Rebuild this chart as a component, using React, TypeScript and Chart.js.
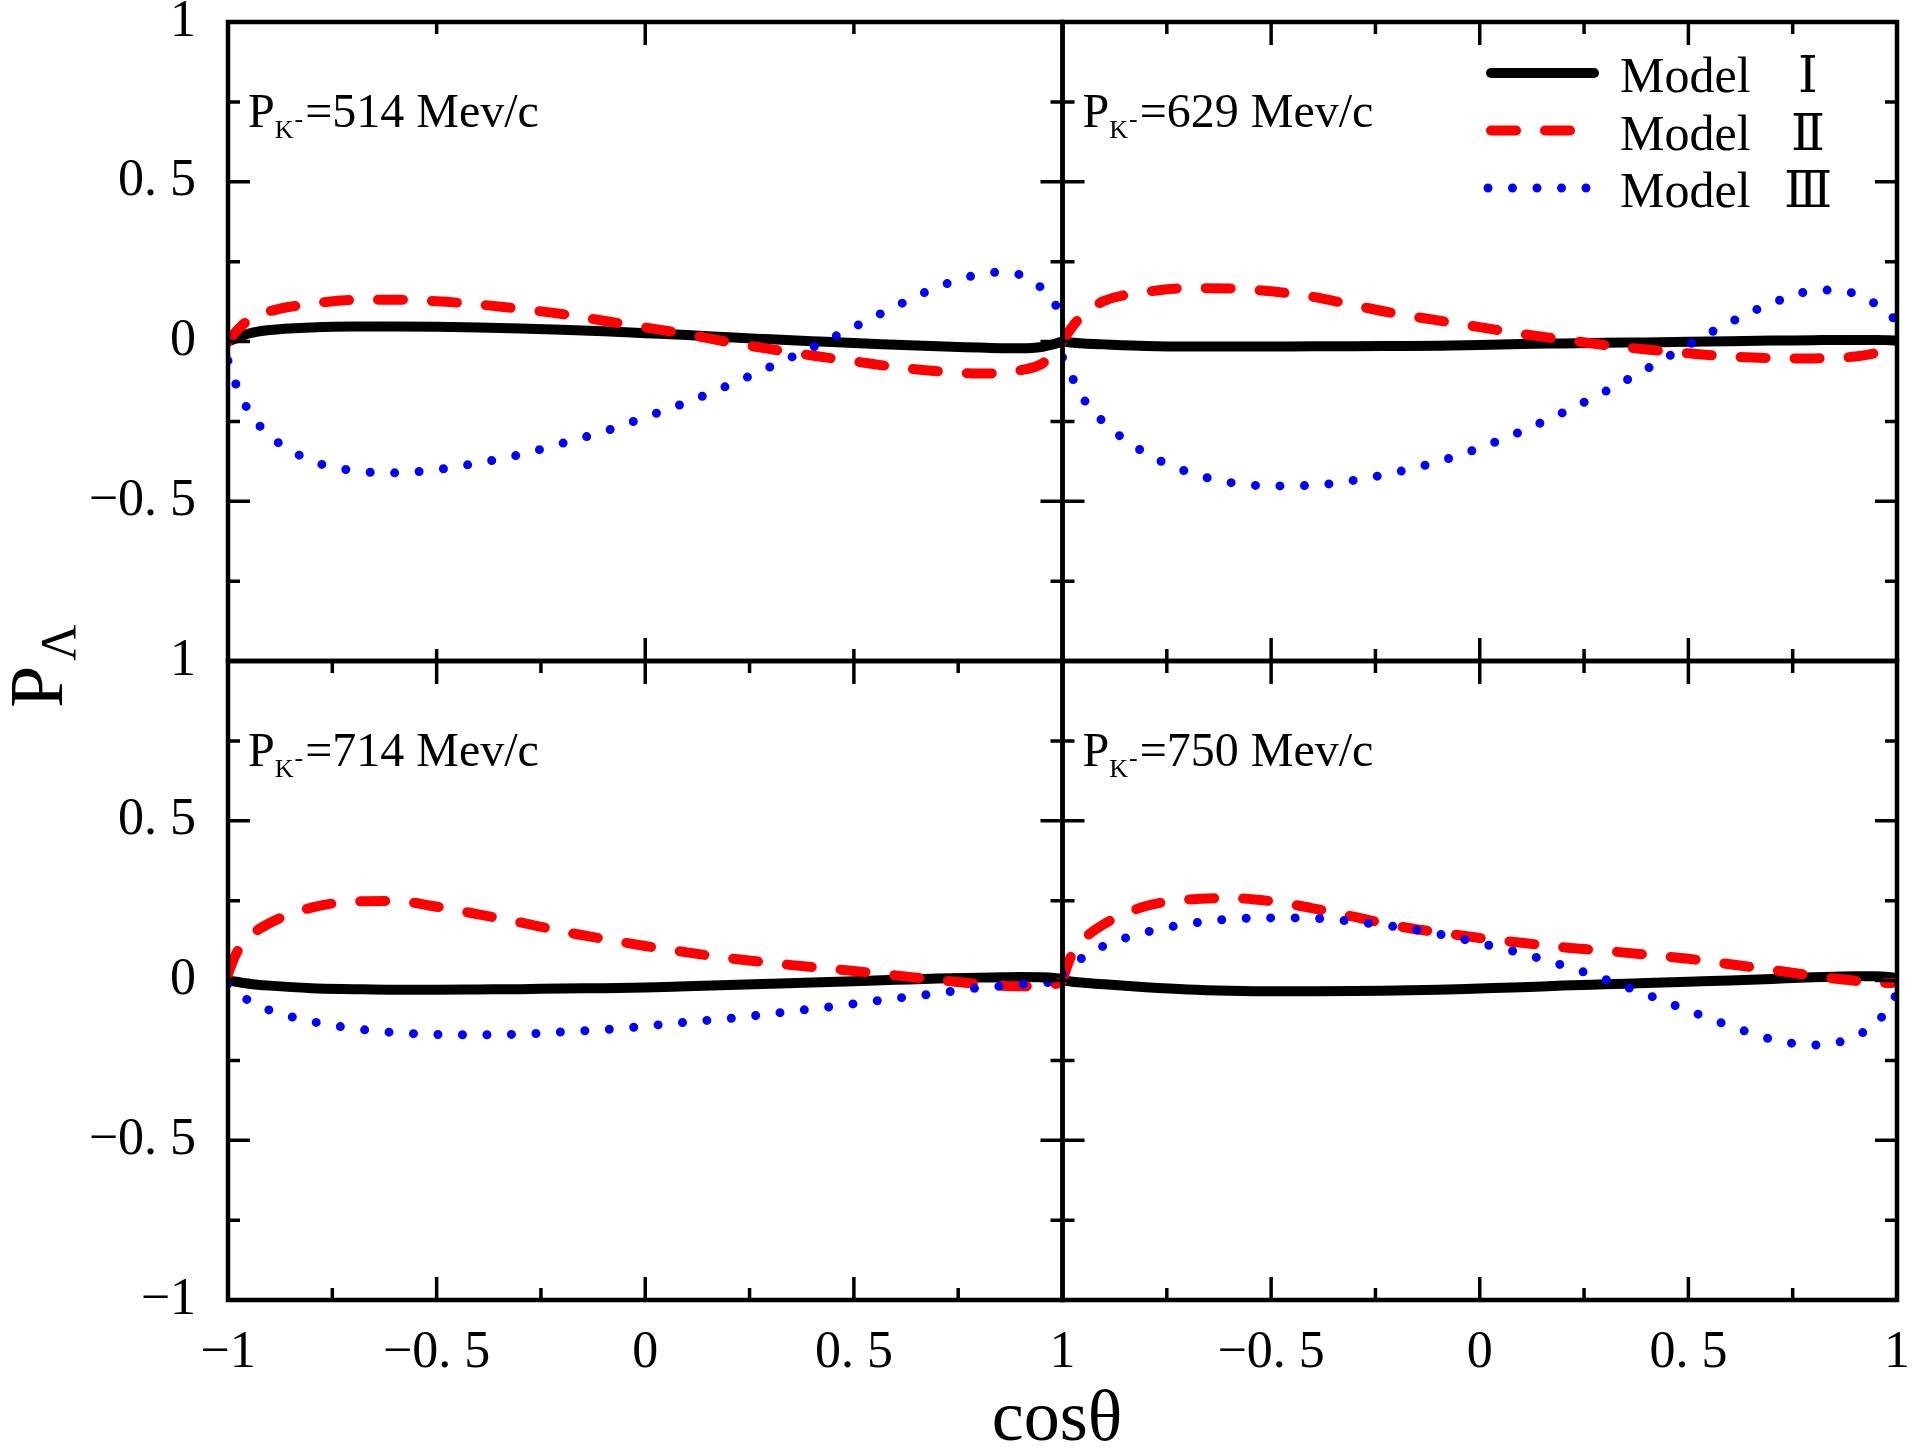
import React, { useEffect, useRef } from 'react';
import { Chart, registerables } from 'chart.js';

Chart.register(...registerables);

// ---------- data ----------
const COS_THETA = [-1, -0.98, -0.95, -0.9, -0.8, -0.7, -0.6, -0.5, -0.4, -0.3, -0.2, -0.1, 0, 0.1, 0.2, 0.3, 0.4, 0.5, 0.6, 0.7, 0.8, 0.85, 0.9, 0.95, 0.98, 1];

const P514_MODEL1 = [0, 0.01, 0.025, 0.036, 0.044, 0.047, 0.047, 0.046, 0.044, 0.041, 0.037, 0.032, 0.026, 0.02, 0.013, 0.007, 0.001, -0.005, -0.01, -0.015, -0.019, -0.021, -0.021, -0.017, -0.008, 0];
const P514_MODEL2 = [0, 0.032, 0.068, 0.095, 0.118, 0.13, 0.131, 0.126, 0.116, 0.102, 0.086, 0.065, 0.044, 0.023, -0.002, -0.024, -0.044, -0.062, -0.08, -0.093, -0.1, -0.099, -0.09, -0.07, -0.035, 0];
const P514_MODEL3 = [-0.06, -0.137, -0.218, -0.295, -0.373, -0.404, -0.411, -0.401, -0.38, -0.354, -0.319, -0.282, -0.237, -0.19, -0.137, -0.079, -0.019, 0.045, 0.11, 0.17, 0.21, 0.217, 0.208, 0.167, 0.12, 0.085];

const P629_MODEL1 = [0, -0.003, -0.006, -0.009, -0.014, -0.016, -0.016, -0.016, -0.015, -0.015, -0.014, -0.013, -0.011, -0.008, -0.006, -0.004, -0.003, -0.001, 0.001, 0.003, 0.004, 0.005, 0.005, 0.005, 0.004, 0.003];
const P629_MODEL2 = [0, 0.04, 0.085, 0.127, 0.155, 0.167, 0.166, 0.157, 0.14, 0.113, 0.087, 0.066, 0.045, 0.024, 0.006, -0.011, -0.025, -0.037, -0.047, -0.052, -0.053, -0.051, -0.047, -0.036, -0.026, -0.018];
const P629_MODEL3 = [-0.05, -0.104, -0.179, -0.254, -0.35, -0.408, -0.441, -0.452, -0.45, -0.434, -0.409, -0.376, -0.333, -0.281, -0.222, -0.157, -0.086, -0.011, 0.06, 0.12, 0.159, 0.161, 0.149, 0.116, 0.085, 0.065];

const P714_MODEL1 = [0, -0.004, -0.01, -0.016, -0.024, -0.027, -0.029, -0.029, -0.028, -0.027, -0.025, -0.024, -0.022, -0.018, -0.014, -0.01, -0.006, -0.002, 0.002, 0.006, 0.009, 0.01, 0.011, 0.01, 0.008, 0.005];
const P714_MODEL2 = [0.02, 0.085, 0.135, 0.18, 0.228, 0.247, 0.249, 0.231, 0.207, 0.182, 0.154, 0.13, 0.108, 0.088, 0.07, 0.055, 0.042, 0.03, 0.016, 0.002, -0.011, -0.016, -0.018, -0.018, -0.012, -0.005];
const P714_MODEL3 = [-0.01, -0.035, -0.063, -0.093, -0.128, -0.15, -0.163, -0.169, -0.17, -0.168, -0.161, -0.154, -0.143, -0.13, -0.119, -0.104, -0.089, -0.073, -0.056, -0.04, -0.023, -0.018, -0.012, -0.008, -0.004, 0];

const P750_MODEL1 = [0, -0.003, -0.007, -0.012, -0.021, -0.028, -0.032, -0.034, -0.034, -0.033, -0.031, -0.029, -0.025, -0.021, -0.016, -0.012, -0.008, -0.004, 0, 0.005, 0.01, 0.012, 0.013, 0.013, 0.011, 0.008];
const P750_MODEL2 = [0, 0.075, 0.128, 0.177, 0.233, 0.253, 0.258, 0.248, 0.226, 0.199, 0.171, 0.151, 0.133, 0.118, 0.104, 0.093, 0.081, 0.068, 0.051, 0.033, 0.015, 0.006, -0.001, -0.007, -0.008, -0.005];
const P750_MODEL3 = [0.02, 0.045, 0.073, 0.109, 0.151, 0.177, 0.192, 0.196, 0.195, 0.184, 0.168, 0.146, 0.117, 0.085, 0.047, 0.004, -0.044, -0.094, -0.142, -0.184, -0.202, -0.196, -0.175, -0.133, -0.085, -0.04];

const MOMENTA = ['514', '629', '714', '750'];
const LEGEND_LABELS = ['Model Ⅰ', 'Model Ⅱ', 'Model Ⅲ'];
const TICK_VALUES = [-1, -0.5, 0, 0.5, 1];
const TICK_TEXTS = ['−1', '−0. 5', '0', '0. 5', '1'];
const X_TITLE = 'cosθ';
const Y_TITLE_MAIN = 'P';
const Y_TITLE_SUB = 'Λ';

// ---------- styling ----------
const FONT = '"Liberation Serif", "DejaVu Serif", serif';
const SERIES_STYLE = [
  { color: '#0000ff', width: 9, dash: [0, 24.5], cap: 'round' },
  { color: '#ff0000', width: 10, dash: [25, 29], cap: 'round' },
  { color: '#000000', width: 10, dash: [], cap: 'round' },
];

const PANELS = [
  { x: 'xL', y: 'yT', momentum: MOMENTA[0], series: [P514_MODEL3, P514_MODEL2, P514_MODEL1], coarse: true },
  { x: 'xR', y: 'yT', momentum: MOMENTA[1], series: [P629_MODEL3, P629_MODEL2, P629_MODEL1], coarse: false },
  { x: 'xL', y: 'yB', momentum: MOMENTA[2], series: [P714_MODEL3, P714_MODEL2, P714_MODEL1], coarse: false },
  { x: 'xR', y: 'yB', momentum: MOMENTA[3], series: [P750_MODEL3, P750_MODEL2, P750_MODEL1], coarse: false },
];

function tickText(v: number, hideMinusOne: boolean) {
  if (hideMinusOne && Math.abs(v + 1) < 1e-9) return '';
  const i = TICK_VALUES.findIndex((t) => Math.abs(t - v) < 1e-9);
  return i >= 0 ? TICK_TEXTS[i] : '';
}

function axisBase(position: string, hide: boolean, weight: number) {
  const horizontal = position === 'bottom';
  return {
    type: 'linear',
    position,
    stack: horizontal ? 'xs' : 'ys',
    stackWeight: 1,
    weight,
    min: -1,
    max: 1,
    grid: { display: false, drawTicks: false },
    border: { display: false },
    ticks: {
      stepSize: 0.5,
      autoSkip: false,
      maxRotation: 0,
      minRotation: 0,
      color: '#000',
      padding: horizontal ? 22 : 32,
      font: { family: FONT, size: 52 },
      callback: (v: any) => tickText(Number(v), hide),
    },
    afterFit: (s: any) => {
      if (horizontal) s.height = 149;
      else s.width = 228;
      s.paddingLeft = 0;
      s.paddingRight = 0;
      s.paddingTop = 0;
      s.paddingBottom = 0;
    },
  };
}

const decorPlugin = {
  id: 'decor',
  beforeDatasetDraw(chart: any, args: any) {
    const xs = args.meta.xScale;
    const ys = args.meta.yScale;
    const ctx = chart.ctx;
    ctx.save();
    ctx.beginPath();
    ctx.rect(xs.left, ys.top, xs.right - xs.left, ys.bottom - ys.top);
    ctx.clip();
  },
  afterDatasetDraw(chart: any) {
    chart.ctx.restore();
  },
  afterDraw(chart: any) {
    const ctx = chart.ctx as CanvasRenderingContext2D;
    const sc = chart.scales;
    ctx.save();
    ctx.strokeStyle = '#000';
    ctx.fillStyle = '#000';

    PANELS.forEach((p) => {
      const xs = sc[p.x];
      const ys = sc[p.y];
      const L = xs.left, R = xs.right, T = ys.top, B = ys.bottom;
      // ticks
      ctx.lineWidth = 3.5;
      ctx.lineCap = 'butt';
      const xMajor = p.coarse ? [0] : [-0.5, 0, 0.5];
      const xMinor = p.coarse ? [-0.5, 0.5] : [-0.75, -0.25, 0.25, 0.75];
      const yMajor = [-0.5, 0, 0.5];
      const yMinor = [-0.75, -0.25, 0.25, 0.75];
      const drawX = (vals: number[], len: number) => {
        vals.forEach((v) => {
          const px = xs.getPixelForValue(v);
          ctx.beginPath();
          ctx.moveTo(px, T); ctx.lineTo(px, T + len);
          ctx.moveTo(px, B); ctx.lineTo(px, B - len);
          ctx.stroke();
        });
      };
      const drawY = (vals: number[], len: number) => {
        vals.forEach((v) => {
          const py = ys.getPixelForValue(v);
          ctx.beginPath();
          ctx.moveTo(L, py); ctx.lineTo(L + len, py);
          ctx.moveTo(R, py); ctx.lineTo(R - len, py);
          ctx.stroke();
        });
      };
      drawX(xMajor, 23); drawX(xMinor, 12);
      drawY(yMajor, 22); drawY(yMinor, 12);
      // frame
      ctx.lineWidth = 4.5;
      ctx.strokeRect(L, T, R - L, B - T);

      // panel label  P_{K^-}=... Mev/c
      const lx = L + 20;
      const ly = T + 105;
      ctx.textAlign = 'left';
      ctx.textBaseline = 'alphabetic';
      ctx.font = `48px ${FONT}`;
      ctx.fillText('P', lx, ly);
      let cx = lx + ctx.measureText('P').width;
      ctx.font = `26px ${FONT}`;
      ctx.fillText('K', cx, ly + 11);
      cx += ctx.measureText('K').width;
      ctx.fillText('-', cx + 1, ly);
      cx += ctx.measureText('-').width + 3;
      ctx.font = `48px ${FONT}`;
      ctx.fillText('=' + p.momentum + ' Mev/c', cx, ly);
    });

    // legend (inside upper-right panel)
    const ds = chart.data.datasets;
    const legendStyles = [ds[2], ds[1], ds[0]];
    LEGEND_LABELS.forEach((label, i) => {
      const y = 73 + i * 57.5;
      const st = legendStyles[i];
      ctx.save();
      ctx.strokeStyle = st.borderColor;
      ctx.lineWidth = st.borderWidth;
      ctx.lineCap = 'round';
      ctx.setLineDash(st.borderDash || []);
      ctx.beginPath();
      if (i === 0) { ctx.moveTo(1491, y); ctx.lineTo(1594, y); }
      else if (i === 1) { ctx.moveTo(1491, y); ctx.lineTo(1592, y); }
      else { ctx.moveTo(1488, y); ctx.lineTo(1588, y); }
      ctx.stroke();
      ctx.restore();
      const [word, num] = label.split(' ');
      ctx.font = `50px ${FONT}`;
      ctx.textAlign = 'left';
      ctx.textBaseline = 'alphabetic';
      ctx.fillText(word, 1620, y + 19);
      ctx.textAlign = 'center';
      ctx.fillText(num, 1808, y + 19);
    });

    // x title
    ctx.textAlign = 'center';
    ctx.textBaseline = 'alphabetic';
    ctx.font = `72px ${FONT}`;
    ctx.fillText(X_TITLE, 1057, 1440);

    // y title (rotated)
    ctx.save();
    ctx.translate(62, 708);
    ctx.rotate(-Math.PI / 2);
    ctx.textAlign = 'left';
    ctx.font = `76px ${FONT}`;
    ctx.fillText(Y_TITLE_MAIN, 0, 0);
    const pw = ctx.measureText(Y_TITLE_MAIN).width;
    ctx.font = `50px ${FONT}`;
    ctx.fillText(Y_TITLE_SUB, pw + 5, 13);
    ctx.restore();

    ctx.restore();
  },
};

export default function App() {
  const ref = useRef<HTMLCanvasElement | null>(null);
  useEffect(() => {
    document.body.style.margin = '0';
    const canvas = ref.current;
    if (!canvas) return;
    const datasets: any[] = [];
    PANELS.forEach((p) => {
      p.series.forEach((vals, k) => {
        const st = SERIES_STYLE[k];
        datasets.push({
          label: `${p.momentum}-${k}`,
          data: COS_THETA.map((x, i) => ({ x, y: vals[i] })),
          xAxisID: p.x,
          yAxisID: p.y,
          borderColor: st.color,
          backgroundColor: st.color,
          borderWidth: st.width,
          borderDash: st.dash,
          borderCapStyle: st.cap,
          borderJoinStyle: 'round',
          pointRadius: 0,
          pointHoverRadius: 0,
          fill: false,
          cubicInterpolationMode: 'monotone',
        });
      });
    });
    const chart = new Chart(canvas, {
      type: 'line',
      data: { datasets },
      options: {
        animation: false,
        responsive: false,
        maintainAspectRatio: false,
        devicePixelRatio: 1,
        events: [],
        layout: { padding: { top: 22, right: 20, left: 0, bottom: 0 } },
        plugins: { legend: { display: false }, tooltip: { enabled: false }, title: { display: false } },
        scales: {
          xL: axisBase('bottom', false, 0),
          xR: axisBase('bottom', true, 1),
          yB: axisBase('left', false, 0),
          yT: axisBase('left', true, 1),
        } as any,
      },
      plugins: [decorPlugin as any],
    } as any);
    return () => chart.destroy();
  }, []);
  return (
    <canvas
      ref={ref}
      width={1917}
      height={1449}
      style={{ display: 'block', width: '1917px', height: '1449px', background: '#fff' }}
    />
  );
}
